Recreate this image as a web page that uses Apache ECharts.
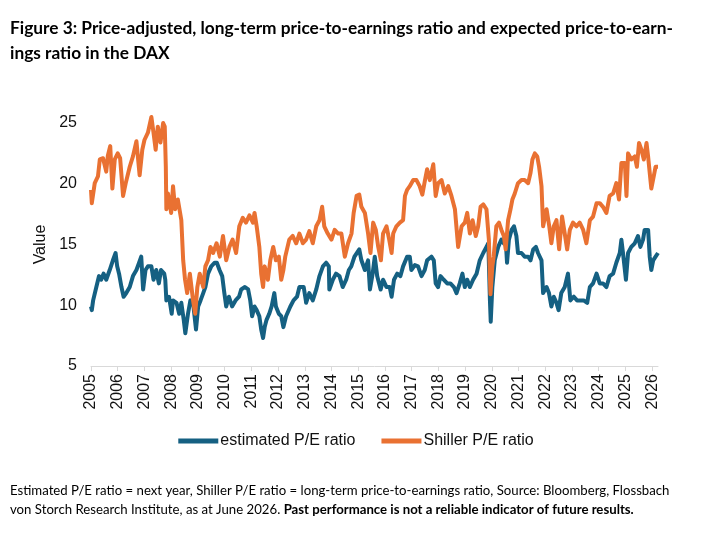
<!DOCTYPE html>
<html>
<head>
<meta charset="utf-8">
<script src="https://cdn.jsdelivr.net/npm/echarts@6/dist/echarts.min.js"></script>
<style>
  html, body { margin: 0; padding: 0; background: #fff; }
  #chart { width: 712px; height: 556px; }
</style>
</head>
<body>
<div id="chart"></div>
<script>
// year ticks on the x axis
var years = [];
for (var y = 2005; y <= 2026; y++) years.push(y);

// Shiller P/E ratio
var shillerX = [2005.0, 2005.03, 2005.14, 2005.26, 2005.33, 2005.45, 2005.57, 2005.63, 2005.72, 2005.8, 2005.89, 2006.0, 2006.09, 2006.2, 2006.3, 2006.45, 2006.57, 2006.7, 2006.82, 2006.92, 2007.0, 2007.13, 2007.26, 2007.34, 2007.42, 2007.5, 2007.6, 2007.7, 2007.76, 2007.8, 2007.82, 2007.88, 2008.0, 2008.07, 2008.15, 2008.25, 2008.38, 2008.45, 2008.52, 2008.6, 2008.7, 2008.82, 2008.9, 2008.98, 2009.07, 2009.2, 2009.28, 2009.38, 2009.47, 2009.57, 2009.7, 2009.82, 2009.94, 2010.06, 2010.18, 2010.3, 2010.43, 2010.55, 2010.68, 2010.8, 2010.93, 2011.06, 2011.12, 2011.2, 2011.3, 2011.37, 2011.44, 2011.5, 2011.62, 2011.71, 2011.82, 2011.92, 2012.03, 2012.12, 2012.2, 2012.27, 2012.42, 2012.55, 2012.68, 2012.8, 2012.93, 2013.05, 2013.17, 2013.3, 2013.43, 2013.55, 2013.65, 2013.73, 2013.86, 2014.0, 2014.12, 2014.25, 2014.37, 2014.5, 2014.62, 2014.75, 2014.83, 2014.94, 2015.04, 2015.12, 2015.25, 2015.37, 2015.46, 2015.56, 2015.66, 2015.75, 2015.85, 2015.93, 2016.06, 2016.16, 2016.25, 2016.31, 2016.43, 2016.56, 2016.68, 2016.75, 2016.83, 2016.93, 2017.06, 2017.18, 2017.3, 2017.4, 2017.5, 2017.58, 2017.68, 2017.81, 2017.9, 2017.99, 2018.12, 2018.24, 2018.37, 2018.49, 2018.62, 2018.74, 2018.87, 2018.99, 2019.08, 2019.18, 2019.28, 2019.4, 2019.49, 2019.58, 2019.68, 2019.8, 2019.89, 2019.95, 2020.02, 2020.07, 2020.17, 2020.27, 2020.36, 2020.45, 2020.52, 2020.61, 2020.7, 2020.77, 2020.86, 2020.98, 2021.11, 2021.23, 2021.36, 2021.45, 2021.52, 2021.61, 2021.7, 2021.77, 2021.86, 2021.92, 2022.05, 2022.15, 2022.23, 2022.32, 2022.42, 2022.52, 2022.63, 2022.73, 2022.82, 2022.92, 2023.04, 2023.17, 2023.29, 2023.42, 2023.54, 2023.67, 2023.79, 2023.92, 2024.04, 2024.16, 2024.29, 2024.41, 2024.54, 2024.66, 2024.76, 2024.85, 2024.98, 2025.04, 2025.1, 2025.22, 2025.35, 2025.43, 2025.51, 2025.6, 2025.69, 2025.79, 2025.85, 2025.91, 2025.97, 2026.06, 2026.13, 2026.22];
var shillerY = [19.5, 18.4, 20.05, 20.6, 22.0, 22.1, 21.0, 22.3, 23.1, 19.6, 22.0, 22.5, 22.1, 19.0, 20.05, 21.4, 22.25, 23.5, 20.7, 22.8, 23.6, 24.2, 25.5, 24.2, 22.8, 24.7, 23.4, 25.0, 24.7, 21.4, 17.9, 19.2, 17.6, 19.8, 17.9, 18.7, 17.0, 13.7, 12.1, 11.0, 12.6, 10.4, 9.3, 11.5, 12.6, 11.5, 13.2, 13.7, 14.8, 14.3, 15.1, 14.0, 15.7, 13.7, 14.8, 15.4, 14.3, 16.5, 17.2, 16.8, 17.4, 16.8, 17.6, 16.5, 14.8, 12.6, 11.5, 13.2, 12.1, 13.7, 14.8, 13.7, 14.0, 12.1, 12.9, 14.0, 15.4, 15.7, 15.1, 15.9, 15.1, 15.4, 16.1, 15.1, 16.5, 17.0, 18.1, 16.5, 15.9, 15.4, 16.2, 15.9, 15.9, 14.0, 15.1, 15.9, 17.6, 19.0, 19.1, 18.1, 17.6, 15.9, 14.3, 16.8, 16.2, 14.8, 13.7, 15.9, 16.5, 15.4, 14.3, 15.9, 16.5, 16.8, 17.0, 19.0, 19.5, 19.8, 20.3, 20.3, 19.8, 19.1, 20.3, 21.2, 20.3, 21.6, 19.0, 20.05, 20.3, 19.2, 19.8, 19.0, 17.9, 14.8, 16.5, 16.8, 17.6, 15.9, 17.0, 15.7, 16.5, 18.1, 18.3, 17.9, 15.4, 10.9, 13.2, 14.0, 16.5, 16.8, 16.2, 15.7, 14.6, 17.0, 17.9, 18.7, 19.2, 20.05, 20.3, 20.3, 20.05, 20.9, 22.0, 22.5, 22.25, 21.4, 19.8, 16.5, 17.9, 16.5, 15.1, 16.5, 17.0, 14.6, 17.3, 15.9, 14.6, 16.2, 16.8, 16.5, 16.8, 16.2, 15.1, 17.0, 17.3, 18.4, 18.4, 18.1, 17.6, 19.0, 19.2, 20.05, 18.7, 21.7, 21.7, 19.0, 22.5, 22.0, 22.25, 21.4, 23.35, 22.8, 22.0, 23.35, 22.25, 20.9, 19.6, 20.6, 21.4, 21.4];

// estimated P/E ratio
var estX = [2005.0, 2005.03, 2005.08, 2005.2, 2005.3, 2005.38, 2005.47, 2005.57, 2005.7, 2005.82, 2005.92, 2005.98, 2006.05, 2006.14, 2006.22, 2006.32, 2006.45, 2006.57, 2006.7, 2006.8, 2006.88, 2006.95, 2007.04, 2007.13, 2007.26, 2007.34, 2007.44, 2007.54, 2007.62, 2007.74, 2007.78, 2007.82, 2007.92, 2008.02, 2008.07, 2008.2, 2008.3, 2008.38, 2008.47, 2008.53, 2008.63, 2008.72, 2008.82, 2008.93, 2009.01, 2009.1, 2009.2, 2009.28, 2009.38, 2009.5, 2009.63, 2009.71, 2009.81, 2009.91, 2009.99, 2010.06, 2010.16, 2010.28, 2010.41, 2010.54, 2010.62, 2010.76, 2010.88, 2010.96, 2011.03, 2011.12, 2011.2, 2011.3, 2011.37, 2011.44, 2011.5, 2011.57, 2011.67, 2011.76, 2011.86, 2011.92, 2012.03, 2012.12, 2012.2, 2012.3, 2012.46, 2012.58, 2012.71, 2012.8, 2012.96, 2013.04, 2013.05, 2013.17, 2013.3, 2013.43, 2013.55, 2013.68, 2013.8, 2013.9, 2013.92, 2014.05, 2014.17, 2014.3, 2014.42, 2014.55, 2014.65, 2014.74, 2014.86, 2015.04, 2015.12, 2015.25, 2015.37, 2015.44, 2015.54, 2015.62, 2015.71, 2015.84, 2015.93, 2016.06, 2016.18, 2016.25, 2016.34, 2016.46, 2016.58, 2016.68, 2016.83, 2016.93, 2016.99, 2017.12, 2017.24, 2017.37, 2017.49, 2017.58, 2017.74, 2017.83, 2017.9, 2017.99, 2018.08, 2018.2, 2018.33, 2018.45, 2018.58, 2018.68, 2018.8, 2018.9, 2018.99, 2019.08, 2019.18, 2019.3, 2019.43, 2019.55, 2019.68, 2019.8, 2019.87, 2019.93, 2019.96, 2020.02, 2020.11, 2020.24, 2020.36, 2020.45, 2020.52, 2020.57, 2020.64, 2020.74, 2020.83, 2020.92, 2020.98, 2021.11, 2021.23, 2021.36, 2021.45, 2021.55, 2021.65, 2021.73, 2021.86, 2021.92, 2022.05, 2022.14, 2022.23, 2022.32, 2022.42, 2022.5, 2022.6, 2022.73, 2022.85, 2022.94, 2023.07, 2023.19, 2023.32, 2023.44, 2023.57, 2023.67, 2023.79, 2023.92, 2024.04, 2024.16, 2024.29, 2024.41, 2024.54, 2024.66, 2024.79, 2024.85, 2024.91, 2025.02, 2025.1, 2025.22, 2025.35, 2025.47, 2025.56, 2025.66, 2025.72, 2025.85, 2025.91, 2025.97, 2026.04, 2026.13, 2026.22];
var estY = [9.9, 9.6, 10.4, 11.5, 12.4, 12.1, 12.6, 12.1, 12.9, 13.7, 14.3, 13.2, 12.6, 11.5, 10.7, 11.0, 11.5, 12.4, 12.9, 13.5, 14.0, 11.3, 12.9, 13.2, 13.2, 12.1, 12.9, 11.8, 12.9, 12.6, 12.1, 10.4, 10.7, 9.3, 10.4, 10.2, 9.3, 10.2, 8.8, 7.7, 9.3, 10.4, 10.2, 8.0, 9.9, 10.4, 11.0, 11.5, 12.6, 13.2, 13.5, 13.5, 12.9, 12.4, 11.0, 9.9, 10.7, 9.9, 10.4, 10.7, 11.3, 11.5, 11.3, 10.4, 9.1, 9.9, 9.6, 9.1, 8.0, 7.3, 8.2, 8.8, 9.3, 9.9, 11.0, 9.9, 9.3, 9.1, 8.2, 9.1, 9.9, 10.4, 10.7, 11.5, 11.5, 10.4, 10.2, 11.0, 10.4, 11.3, 12.4, 13.2, 13.5, 13.2, 11.3, 12.1, 12.6, 12.4, 11.5, 12.1, 12.9, 13.2, 14.0, 14.6, 13.7, 12.9, 13.7, 11.3, 12.6, 14.0, 12.4, 11.3, 12.1, 11.5, 11.5, 10.7, 12.1, 12.6, 12.4, 13.2, 14.0, 14.0, 12.9, 13.3, 13.2, 12.4, 12.9, 13.7, 14.0, 13.7, 11.8, 11.5, 12.4, 12.1, 11.8, 11.8, 11.5, 11.0, 11.8, 12.6, 11.5, 12.1, 11.5, 12.1, 12.6, 13.7, 14.3, 14.8, 15.1, 10.4, 8.65, 11.5, 13.7, 14.8, 15.4, 15.1, 15.4, 13.5, 15.4, 16.2, 16.5, 15.7, 14.3, 14.3, 14.0, 14.0, 13.7, 14.6, 14.8, 14.3, 13.7, 11.0, 11.5, 11.0, 9.9, 10.7, 10.2, 9.6, 11.0, 11.5, 12.6, 10.4, 10.7, 10.4, 10.4, 10.4, 10.2, 11.5, 11.8, 12.6, 11.8, 11.8, 11.5, 12.4, 12.6, 13.5, 14.3, 15.4, 14.3, 12.1, 14.3, 14.8, 15.1, 15.7, 14.8, 15.4, 16.2, 16.2, 14.0, 12.9, 13.7, 14.0, 14.3];

var seriesNames = ['estimated P/E ratio', 'Shiller P/E ratio'];

function pairs(xs, ys) {
    return xs.map(function (x, i) { return [x, ys[i]]; });
}

var chart = echarts.init(document.getElementById('chart'), null, { renderer: 'canvas' });

var option = {
    backgroundColor: '#ffffff',
    animation: false,
    textStyle: { fontFamily: 'Liberation Sans, Arial, sans-serif' },
    graphic: [
        {
            type: 'text', left: 10, top: 16,
            style: {
                text: 'Figure 3: Price-adjusted, long-term price-to-earnings ratio and expected price-to-earn-\nings ratio in the DAX',
                font: 'bold 17.3px Lato, sans-serif', fill: '#000', lineHeight: 25
            }
        },
        {
            type: 'text', left: 10, top: 484,
            style: {
                rich: {
                    n: { font: '13.2px Lato, sans-serif', fill: '#000', lineHeight: 19 },
                    b: { font: 'bold 13.2px Lato, sans-serif', fill: '#000', lineHeight: 19 }
                },
                text: '{n|Estimated P/E ratio = next year, Shiller P/E ratio = long-term price-to-earnings ratio, Source: Bloomberg, Flossbach}\n{n|von Storch Research Institute, as at June 2026. }{b|Past performance is not a reliable indicator of future results.}'
            }
        }
    ],
    legend: {
        data: seriesNames,
        bottom: 102,
        left: 'center',
        icon: 'rect',
        itemWidth: 40,
        itemHeight: 5,
        itemGap: 26,
        textStyle: { fontSize: 16, color: '#111', padding: [0, 0, 0, -3] }
    },
    grid: { left: 91, right: 54, top: 123, bottom: 190 },
    xAxis: {
        type: 'value',
        min: 2005,
        max: 2026.22,
        splitLine: { show: false },
        axisLine: { lineStyle: { color: '#d9d9d9', width: 1 } },
        axisTick: { show: true, customValues: years, length: 5, lineStyle: { color: '#d9d9d9' } },
        axisLabel: {
            customValues: years,
            rotate: 90,
            fontSize: 16,
            color: '#111',
            margin: 8,
            formatter: function (v) { return String(v); }
        }
    },
    yAxis: {
        type: 'value',
        min: 5,
        max: 25,
        interval: 5,
        name: 'Value',
        nameLocation: 'middle',
        nameGap: 39,
        nameTextStyle: { fontSize: 16, color: '#111' },
        splitLine: { show: false },
        axisLine: { show: false },
        axisTick: { show: false },
        axisLabel: { fontSize: 16, color: '#111', margin: 14 }
    },
    series: [
        {
            name: seriesNames[0], type: 'line', data: pairs(estX, estY),
            showSymbol: false, clip: false,
            lineStyle: { color: '#156082', width: 4, join: 'round' },
            itemStyle: { color: '#156082' }
        },
        {
            name: seriesNames[1], type: 'line', data: pairs(shillerX, shillerY),
            showSymbol: false, clip: false,
            lineStyle: { color: '#E97132', width: 4, join: 'round' },
            itemStyle: { color: '#E97132' }
        }
    ]
};

chart.setOption(option);
</script>
</body>
</html>
